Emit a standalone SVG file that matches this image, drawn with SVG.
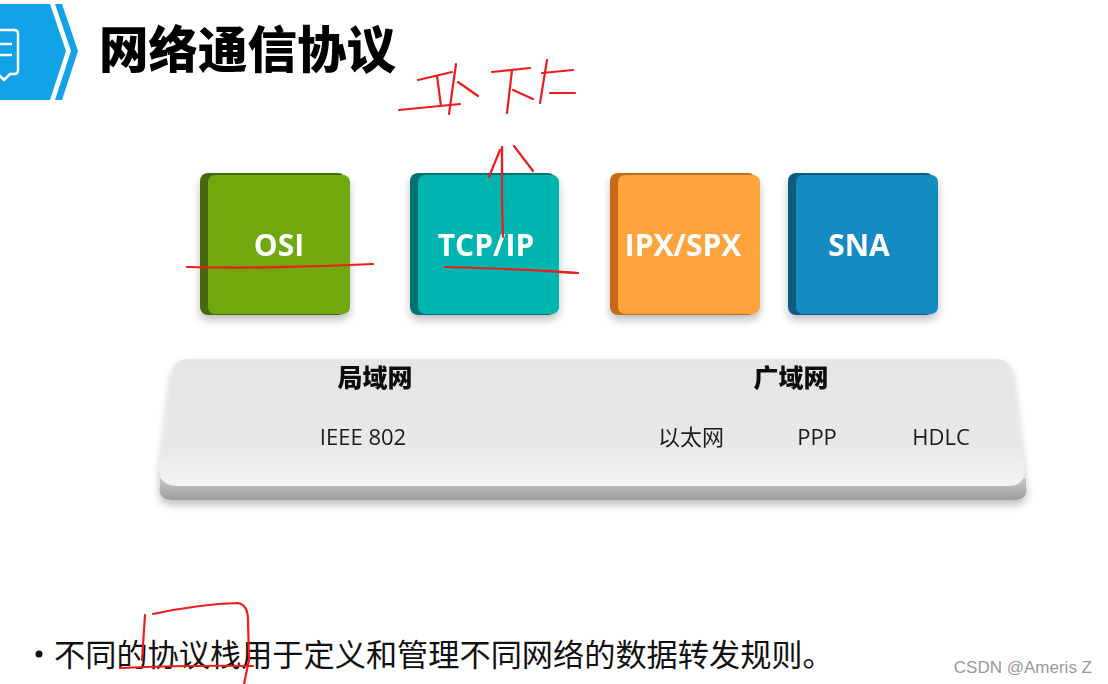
<svg xmlns="http://www.w3.org/2000/svg" width="1108" height="684" viewBox="0 0 1108 684">
<defs>
<style>
.cjk{font-family:"Noto Sans CJK SC","Noto Sans",sans-serif}
.lbl{font-family:"Open Sans","Noto Sans",sans-serif;font-weight:700;font-size:30px;fill:#fff;text-anchor:middle}
.sub{font-family:"Open Sans","Noto Sans CJK SC",sans-serif;font-size:22px;fill:#1a1a1a;text-anchor:middle}
.hd{font-family:"Noto Sans CJK SC",sans-serif;font-weight:900;font-size:25px;fill:#111;text-anchor:middle}
.ink{fill:none;stroke:#ee1c1c;stroke-width:2.2;stroke-linecap:round;stroke-linejoin:round}
</style>
<linearGradient id="slab" x1="0" y1="0" x2="0" y2="1">
<stop offset="0" stop-color="#e6e6e8"/><stop offset="0.7" stop-color="#e8e8ea"/><stop offset="1" stop-color="#f4f4f5"/>
</linearGradient>
<linearGradient id="edge" x1="0" y1="0" x2="0" y2="1">
<stop offset="0" stop-color="#c9c9cb"/><stop offset="1" stop-color="#9d9d9f"/>
</linearGradient>
<filter id="sh" x="-10%" y="-10%" width="120%" height="140%">
<feGaussianBlur in="SourceAlpha" stdDeviation="4"/><feOffset dy="5"/>
<feComponentTransfer><feFuncA type="linear" slope="0.25"/></feComponentTransfer>
<feMerge><feMergeNode/><feMergeNode in="SourceGraphic"/></feMerge>
</filter>
</defs>
<rect width="1108" height="684" fill="#fff"/>

<g id="header">
<path d="M0 4 H50 L66 51 L50 100 H0 Z" fill="#12a2e8"/>
<path d="M55 4 H62 L78 51 L62 100 H55 L71 51 Z" fill="#12a2e8"/>
<path d="M-6 30 H14 Q18 30 18 34 V70 Q18 74 14 74 H10 L4 80 L-2 74 H-6" fill="none" stroke="#fff" stroke-width="2.5"/>
<line x1="-4" y1="44" x2="12" y2="44" stroke="#fff" stroke-width="2.5"/>
<line x1="-4" y1="55" x2="12" y2="55" stroke="#fff" stroke-width="2.5"/>
<text x="99" y="68" class="cjk" font-size="49.5" font-weight="900" fill="#000">网络通信协议</text>
</g>

<g id="osi" filter="url(#sh)">
<rect x="200" y="173" width="146" height="142" rx="8" fill="#46690a"/>
<rect x="208" y="175" width="142" height="139" rx="7" fill="#6fa80f"/>
<text x="279" y="256" class="lbl">OSI</text>
</g>
<g id="tcpip" filter="url(#sh)">
<rect x="410" y="173" width="146" height="142" rx="8" fill="#047370"/>
<rect x="418" y="175" width="141" height="139" rx="7" fill="#06b4b0"/>
<text x="486" y="256" class="lbl">TCP/IP</text>
</g>
<g id="ipxspx" filter="url(#sh)">
<rect x="610" y="173" width="146" height="142" rx="8" fill="#c66a12"/>
<rect x="618" y="175" width="142" height="139" rx="7" fill="#ffa33e"/>
<text x="683" y="256" class="lbl">IPX/SPX</text>
</g>
<g id="sna" filter="url(#sh)">
<rect x="788" y="173" width="146" height="142" rx="8" fill="#0c5b80"/>
<rect x="796" y="175" width="142" height="139" rx="7" fill="#158bc1"/>
<text x="859" y="256" class="lbl">SNA</text>
</g>

<g id="network-layer" filter="url(#sh)">
<path d="M160 485 Q157 500 172 500 H1014 Q1029 500 1026 485 L1026 478 L160 478 Z" fill="url(#edge)"/>
<path d="M190 359 H996 Q1009 359 1012 372 L1024 468 Q1026 486 1008 486 H178 Q158 486 160 468 L172 372 Q175 359 190 359 Z" fill="url(#slab)"/>
<text x="375" y="387" class="hd">局域网</text>
<text x="791" y="387" class="hd">广域网</text>
<text x="363" y="445" class="sub">IEEE 802</text>
<text x="691" y="445" class="sub cjk" font-size="21">以太网</text>
<text x="817" y="445" class="sub">PPP</text>
<text x="941" y="445" class="sub">HDLC</text>
</g>

<g id="bullet">
<circle cx="39" cy="654" r="3.5" fill="#111"/>
<text x="54" y="666" class="cjk" font-size="31.2" fill="#111">不同的协议栈用于定义和管理不同网络的数据转发规则。</text>
</g>

<g id="connectors">
<path class="ink" d="M187 267 Q280 269 373 264"/>
<path class="ink" d="M445 267 Q520 269 578 273" stroke="#1a1a1a"/>
<path class="ink" d="M558 272 L578 273"/>
<path class="ink" d="M503 237 L502 200 L502 147" stroke="#1a1a1a"/>
<path class="ink" d="M502 176 L502 147"/>
<path class="ink" d="M489 177 L500 150"/>
<path class="ink" d="M514 146 L533 171"/>
<path class="ink" d="M418 80 L452 72"/>
<path class="ink" d="M437 76 L441 106"/>
<path class="ink" d="M399 110 L460 104"/>
<path class="ink" d="M456 64 L449 114"/>
<path class="ink" d="M458 82 L478 96"/>
<path class="ink" d="M492 72 L530 68"/>
<path class="ink" d="M512 70 L507 113"/>
<path class="ink" d="M513 90 L533 99"/>
<path class="ink" d="M542 73 L573 70"/>
<path class="ink" d="M547 60 L540 103"/>
<path class="ink" d="M550 93 L575 93"/>
<path class="ink" d="M145 615 L142 660"/>
<path class="ink" d="M153 614 Q200 604 238 603 Q248 605 248 620 L249 660 L244 684"/>
<path class="ink" d="M120 668 Q190 665 253 666"/>
</g>

<text x="1092" y="673" font-family="Liberation Sans, Arial, sans-serif" font-size="17" fill="#999" text-anchor="end">CSDN @Ameris Z</text>
</svg>
